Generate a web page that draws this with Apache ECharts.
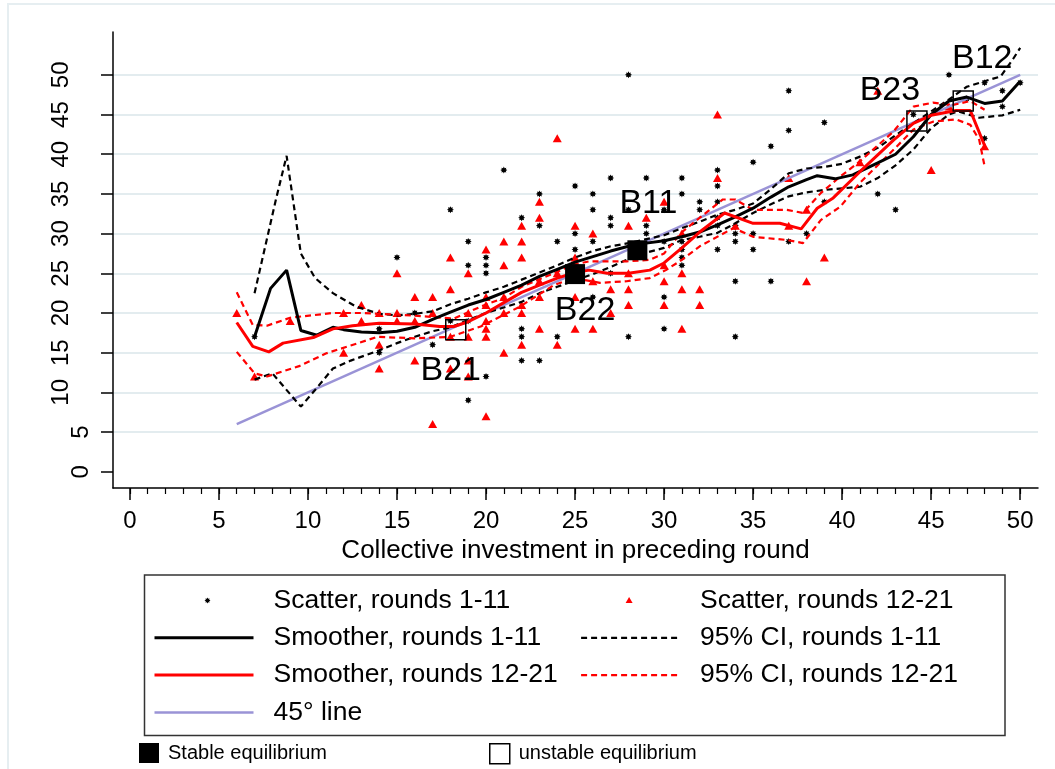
<!DOCTYPE html>
<html>
<head>
<meta charset="utf-8">
<title>Collective investment</title>
<script src="https://cdn.jsdelivr.net/npm/echarts@6.0.0/dist/echarts.min.js"></script>
<style>
    html, body { margin: 0; padding: 0; background: #fff; }
    #main { width: 1055px; height: 769px; }
</style>
</head>
<body>
<div id="main"></div>
<script>
var FONT = '"Liberation Sans", Arial, Helvetica, sans-serif';

// axis ticks
var xTicks = [0, 5, 10, 15, 20, 25, 30, 35, 40, 45, 50];
var xMinorTicks = [0, 1, 2, 3, 4, 5, 6, 7, 8, 9, 10, 11, 12, 13, 14, 15, 16, 17, 18, 19, 20, 21, 22, 23, 24, 25,
    26, 27, 28, 29, 30, 31, 32, 33, 34, 35, 36, 37, 38, 39, 40, 41, 42, 43, 44, 45, 46, 47, 48, 49, 50];
var yTicks = [0, 5, 10, 15, 20, 25, 30, 35, 40, 45, 50];
var yLabelsWide = [10, 15, 20, 25, 30, 35, 40, 45, 50];
var yLabelsNarrow = [0, 5];
var gridLevels = [5, 10, 15, 20, 25, 30, 35, 40, 45, 50];

// scatter, rounds 1-11
var scatterEarly = [
    [7, 17], [14, 18], [14, 15], [15, 27], [16, 20], [17, 16], [18, 33], [18, 19], [19, 29], [19, 26], [19, 19], [19, 9],
    [20, 27], [20, 26], [20, 25], [20, 12], [21, 38], [22, 32], [22, 18], [22, 17], [22, 14], [23, 35], [23, 31], [23, 14],
    [24, 29], [24, 17], [25, 36], [25, 30], [25, 28], [26, 35], [26, 33], [26, 29], [26, 22], [27, 37], [27, 32], [27, 31],
    [27, 25], [28, 50], [28, 33], [28, 17], [29, 37], [29, 31], [29, 30], [30, 33], [30, 29], [30, 22], [30, 18], [31, 37],
    [31, 35], [31, 29], [31, 28], [31, 27], [31, 26], [32, 34], [32, 33], [33, 38], [33, 36], [33, 34], [33, 32], [33, 31],
    [33, 28], [34, 31], [34, 30], [34, 29], [34, 24], [34, 17], [35, 39], [35, 30], [35, 28], [36, 41], [36, 24], [37, 48],
    [37, 43], [37, 29], [38, 30], [39, 44], [39, 34], [42, 35], [43, 33], [44, 45], [46, 50], [47, 47], [48, 49], [48, 42],
    [49, 48], [49, 46], [50, 49]
];

// scatter, rounds 12-21
var scatterLate = [
    [6, 20], [7, 12], [9, 19], [12, 20], [12, 15], [13, 21], [13, 19], [14, 20], [14, 16], [14, 13], [15, 25], [15, 20],
    [15, 19], [16, 22], [16, 19], [16, 14], [17, 22], [17, 20], [17, 6], [18, 27], [18, 23], [18, 17], [18, 13], [19, 25],
    [19, 20], [19, 17], [19, 14], [19, 12], [20, 28], [20, 22], [20, 21], [20, 19], [20, 18], [20, 17], [20, 7], [21, 29],
    [21, 26], [21, 22], [21, 20], [21, 15], [22, 31], [22, 29], [22, 27], [22, 21], [22, 20], [22, 16], [23, 34], [23, 32],
    [23, 24], [23, 22], [23, 18], [24, 42], [24, 25], [24, 16], [25, 31], [25, 27], [25, 22], [25, 18], [26, 30], [26, 24],
    [26, 18], [27, 23], [27, 20], [28, 31], [28, 25], [28, 23], [28, 21], [29, 32], [30, 34], [30, 26], [30, 24], [30, 21],
    [31, 30], [31, 25], [31, 23], [31, 18], [32, 23], [32, 21], [33, 45], [33, 37], [34, 31], [37, 37], [37, 31], [38, 33],
    [38, 24], [39, 27], [41, 39], [42, 48], [45, 38], [46, 46], [48, 41]
];

var smoothEarly = [
    [7, 17], [7.9, 23.1], [8.8, 25.4], [9.6, 17.8], [10.5, 17.2], [11.4, 18.2], [12, 17.9], [13, 17.6], [14, 17.5],
    [15, 17.7], [16, 18.2], [17, 19.2], [18, 20.1], [19, 21], [20, 21.7], [21, 22.6], [22, 23.5], [23, 24.6], [24, 25.5],
    [25, 26.4], [26, 27.1], [27, 27.8], [28, 28.4], [29, 28.8], [30, 29.1], [31, 29.6], [32, 30.2], [33, 31.1], [34, 32.1],
    [35, 33.2], [36, 34.6], [37, 35.9], [38, 36.8], [38.6, 37.3], [39.6, 36.9], [40.6, 37.4], [42, 38.9], [43, 40],
    [44, 42.2], [45, 45], [46, 46.7], [47, 47.2], [48, 46.4], [49, 46.7], [50, 49.2]
];
var ciEarlyUpper = [
    [7, 22.5], [8.2, 34.3], [8.8, 39.8], [9.6, 27.5], [10.4, 24.4], [11.4, 22.5], [12.7, 20.8], [14, 19.9], [15, 19.7],
    [16, 19.9], [17, 20.2], [18, 21.1], [19, 21.8], [20, 22.6], [21, 23.3], [22, 24.2], [23, 25.1], [24, 26], [25, 27],
    [26, 27.8], [27, 28.4], [28, 28.8], [29, 29.3], [30, 29.8], [31, 30.7], [32, 31.5], [33, 32.4], [34, 33], [35, 33.8],
    [36, 35.6], [37, 37.6], [38, 38.2], [39, 38.4], [40, 38.8], [41, 39.7], [42, 40.8], [43, 42.4], [44, 43.9],
    [45, 45.4], [46, 46.9], [47, 48.5], [48, 49.2], [48.9, 49.8], [49.6, 52], [50, 53.4]
];
var ciEarlyLower = [
    [7, 11.6], [8, 12.4], [9.6, 8.2], [10.4, 10.3], [11.4, 13], [12.4, 14], [14, 15.3], [15, 16.2], [16, 17], [17, 17.7],
    [18, 18.2], [19, 19.1], [20, 20], [21, 20.7], [22, 21.4], [23, 22.5], [24, 23.3], [25, 24.1], [26, 24.9], [27, 25.8],
    [28, 26.8], [29, 27.6], [30, 28.2], [31, 29.2], [32, 29.6], [33, 30.1], [34, 31.3], [35, 32.6], [36, 33.7], [37, 34.7],
    [38, 35.2], [39, 35.5], [40, 35.7], [41, 35.9], [42, 37], [43, 38.6], [44, 40.6], [45, 43.3], [46, 45], [46.5, 45.4],
    [47.7, 44.6], [49, 44.9], [50, 45.6]
];

var smoothLate = [
    [6, 18.8], [6.9, 15.8], [7.8, 15.1], [8.6, 16.2], [10.3, 16.9], [11.4, 18], [12.5, 18.4], [14, 18.7], [16, 18.6],
    [17.4, 18.3], [18.2, 18.3], [19, 18.9], [20, 20], [21, 21.3], [22, 22.6], [23, 23.5], [24, 24.4], [25, 25.1],
    [25.8, 25.4], [26.8, 25], [28, 25], [29.2, 25.4], [30, 26.3], [31, 28.2], [32, 30.2], [33.4, 32.6], [35, 31.3],
    [36.5, 31.3], [37.7, 30.6], [38.6, 33.2], [39.5, 34.5], [41, 37.8], [42.9, 41.8], [44, 43.9], [45, 44.9],
    [46.4, 45.5], [47.2, 45.5], [48, 41.1]
];
var ciLateUpper = [
    [6, 22.6], [6.9, 18.5], [7.7, 18.4], [9, 19.4], [11.4, 20], [13, 20], [15, 19.8], [17, 19.5], [18.2, 19.3],
    [19.7, 20.8], [21, 21.9], [22, 23.3], [23.8, 25], [24.9, 26.1], [25.8, 26.5], [27.9, 26.5], [29.2, 26.7], [30, 27.5],
    [31, 30.2], [32, 32], [33.3, 34.3], [34, 34.3], [35, 33], [36.9, 33], [37.8, 32.6], [38.8, 35.1], [39.9, 37.2],
    [41, 39.1], [42.9, 42.9], [44, 46], [45.1, 46.5], [46.2, 46.2], [47.2, 46.7], [48, 45.6]
];
var ciLateLower = [
    [6, 15.1], [7, 12.4], [7.7, 12], [9.5, 13.3], [11, 14.9], [12.4, 15.9], [13.9, 17], [16, 16.8], [18, 17],
    [19.7, 18.3], [21.9, 20.8], [23.8, 23.5], [24.9, 24.4], [26.4, 23.8], [27.9, 24], [29.2, 24.4], [30.1, 25.4],
    [31, 26.7], [32, 28.4], [33.9, 30.7], [35, 29.6], [36.9, 29.2], [37.8, 28.8], [38.8, 31.7], [39.9, 33.4],
    [41, 36.4], [42.9, 40.6], [44, 43.1], [45.1, 44.1], [46.4, 44.4], [47.2, 43.7], [47.7, 41.8], [48, 38.5]
];

var diagonal = [[6, 6], [50, 50]];

var stableEq = [[25, 24.9], [28.5, 27.9]];
var stableNames = ['B22', 'B11'];
var unstableEq = [[18.3, 17.9], [44.2, 44.2], [46.8, 46.7]];
var unstableNames = ['B21', 'B23', 'B12'];

// where each B-label sits relative to its square (px)
var labelOffset = {B22: [10, 37], B11: [11, -47], B21: [-5, 41], B23: [-27, -30], B12: [19, -42]};

var starPath = 'path://M5 0L6.15 2.23L8.54 1.46L7.77 3.85L10 5L7.77 6.15L8.54 8.54L6.15 7.77L5 10L3.85 7.77' +
    'L1.46 8.54L2.23 6.15L0 5L2.23 3.85L1.46 1.46L3.85 2.23Z';
var legendStar = 'path://M0 0M99 14M53 4L53.69 5.34L55.12 4.88L54.66 6.31L56 7L54.66 7.69L55.12 9.12L53.69 8.66' +
    'L53 10L52.31 8.66L50.88 9.12L51.34 7.69L50 7L51.34 6.31L50.88 4.88L52.31 5.34Z';
var legendTriangle = 'path://M0 0M99 14M48 3.5L51.5 9.5L44.5 9.5Z';

function lineSeries(name, data, color, width, dashed, z) {
    return {
        name: name,
        type: 'line',
        data: data,
        symbol: 'none',
        showSymbol: false,
        silent: true,
        z: z,
        itemStyle: {color: color},
        lineStyle: {color: color, width: width, type: dashed ? [6, 4] : 'solid'}
    };
}

function eqSeries(name, points, names, filled) {
    return {
        name: name,
        type: 'scatter',
        symbol: 'rect',
        symbolSize: 20,
        silent: true,
        z: 10,
        itemStyle: filled ? {color: '#000', opacity: 1} :
            {color: 'rgba(0,0,0,0)', borderColor: '#000', borderWidth: 1.5, opacity: 1},
        label: {
            show: true, position: 'inside', formatter: '{b}', fontSize: 34, fontFamily: FONT,
            color: '#000', opacity: 1, textBorderWidth: 0
        },
        data: points.map(function (p, i) {
            return {name: names[i], value: p, label: {offset: labelOffset[names[i]]}};
        })
    };
}

// legend entry for a line: hide the dot that line legends draw
function lineEntry(name) {
    return {name: name, itemStyle: {color: 'rgba(0,0,0,0)', borderWidth: 0, opacity: 0}};
}

var legendText = {fontSize: 26.5, lineHeight: 26, fontFamily: FONT, color: '#000', padding: [0, 0, 0, 15]};
var smallText = {fontSize: 20, lineHeight: 20, fontFamily: FONT, color: '#000', padding: [0, 0, 0, 4]};

var myChart = echarts.init(document.getElementById('main'));

var option = {
    animation: false,
    backgroundColor: '#fff',
    grid: {left: 113, right: 17, top: 32, bottom: 281, outerBoundsMode: 'none', containLabel: false},
    xAxis: [{
        type: 'value', min: -0.95, max: 51, position: 'bottom',
        name: 'Collective investment in preceding round', nameLocation: 'middle', nameGap: 45,
        nameTextStyle: {fontSize: 26, fontFamily: FONT, color: '#000'},
        axisLine: {show: true, onZero: false, lineStyle: {color: '#000', width: 1.5}},
        axisTick: {show: true, customValues: xTicks, length: 12, lineStyle: {color: '#000', width: 1.5}},
        axisLabel: {customValues: xTicks, margin: 21, fontSize: 24, fontFamily: FONT, color: '#000'},
        splitLine: {show: false}
    }, {
        type: 'value', min: -0.95, max: 51, position: 'bottom',
        axisLine: {show: false, onZero: false},
        axisTick: {show: true, customValues: xMinorTicks, length: 6, lineStyle: {color: '#000', width: 1.2}},
        axisLabel: {show: false},
        splitLine: {show: false}
    }],
    yAxis: [{
        type: 'value', min: -2.05, max: 55.4, position: 'left',
        axisLine: {show: true, onZero: false, lineStyle: {color: '#000', width: 1.5}},
        axisTick: {show: true, customValues: yTicks, length: 12, lineStyle: {color: '#000', width: 1.5}},
        axisLabel: {customValues: yLabelsWide, rotate: 90, margin: 40, fontSize: 24, fontFamily: FONT, color: '#000'},
        splitLine: {show: false}
    }, {
        type: 'value', min: -2.05, max: 55.4, position: 'left',
        axisLine: {show: false, onZero: false},
        axisTick: {show: false},
        axisLabel: {customValues: yLabelsNarrow, rotate: 90, margin: 20, fontSize: 24, fontFamily: FONT, color: '#000'},
        splitLine: {show: false}
    }],
    legend: [{
        orient: 'vertical', left: 153, top: 587, padding: 0, itemWidth: 99, itemHeight: 14, itemGap: 10.3,
        selectedMode: false, textStyle: legendText, lineStyle: {width: 'inherit'},
        data: [{name: 'Scatter, rounds 1-11', icon: legendStar, itemStyle: {opacity: 1}},
            lineEntry('Smoother, rounds 1-11'), lineEntry('Smoother, rounds 12-21'), lineEntry('45° line')]
    }, {
        orient: 'vertical', left: 580, top: 587, padding: 0, itemWidth: 99, itemHeight: 14, itemGap: 10.3,
        selectedMode: false, textStyle: legendText, lineStyle: {width: 'inherit'},
        data: [{name: 'Scatter, rounds 12-21', icon: legendTriangle, itemStyle: {opacity: 1}},
            lineEntry('95% CI, rounds 1-11'), lineEntry('95% CI, rounds 12-21')]
    }, {
        orient: 'horizontal', left: 139, top: 743, padding: 0, itemWidth: 20, itemHeight: 20,
        selectedMode: false, textStyle: smallText,
        data: [{name: 'Stable equilibrium', icon: 'rect', itemStyle: {color: '#000', borderWidth: 0, opacity: 1}}]
    }, {
        orient: 'horizontal', left: 489, top: 743, padding: 0, itemWidth: 20, itemHeight: 20,
        selectedMode: false, textStyle: smallText,
        data: [{name: 'unstable equilibrium', icon: 'rect',
            itemStyle: {color: '#fff', borderColor: '#000', borderWidth: 1.5, opacity: 1}}]
    }],
    graphic: [{
        type: 'rect', z: -10, silent: true,
        shape: {x: 8, y: 4, width: 1100, height: 900},
        style: {fill: 'none', stroke: '#e6eef1', lineWidth: 2}
    }, {
        type: 'rect', z: 1, silent: true,
        shape: {x: 144.5, y: 575, width: 860.5, height: 160.5},
        style: {fill: 'none', stroke: '#333', lineWidth: 1.5}
    }],
    series: [
        {
            name: 'grid', type: 'line', data: [], silent: true, z: 0,
            markLine: {
                silent: true, symbol: ['none', 'none'], label: {show: false}, z: 0,
                lineStyle: {color: '#e3ecef', width: 2, type: 'solid'},
                data: gridLevels.map(function (v) { return {yAxis: v}; })
            }
        },
        {
            name: 'Scatter, rounds 1-11', type: 'scatter', data: scatterEarly, symbol: starPath, symbolSize: 7,
            silent: true, z: 2, itemStyle: {color: '#000', opacity: 1}
        },
        {
            name: 'Scatter, rounds 12-21', type: 'scatter', data: scatterLate, symbol: 'triangle', symbolSize: [9, 8],
            silent: true, z: 2, itemStyle: {color: '#ff0000', opacity: 1}
        },
        lineSeries('45° line', diagonal, '#9a93d6', 2.5, false, 3),
        lineSeries('95% CI, rounds 1-11', ciEarlyUpper, '#000', 2.2, true, 4),
        lineSeries('95% CI, rounds 1-11', ciEarlyLower, '#000', 2.2, true, 4),
        lineSeries('95% CI, rounds 12-21', ciLateUpper, '#ff0000', 2.2, true, 4),
        lineSeries('95% CI, rounds 12-21', ciLateLower, '#ff0000', 2.2, true, 4),
        lineSeries('Smoother, rounds 1-11', smoothEarly, '#000', 3, false, 5),
        lineSeries('Smoother, rounds 12-21', smoothLate, '#ff0000', 3, false, 5),
        eqSeries('Stable equilibrium', stableEq, stableNames, true),
        eqSeries('unstable equilibrium', unstableEq, unstableNames, false)
    ]
};

myChart.setOption(option);
</script>
</body>
</html>
